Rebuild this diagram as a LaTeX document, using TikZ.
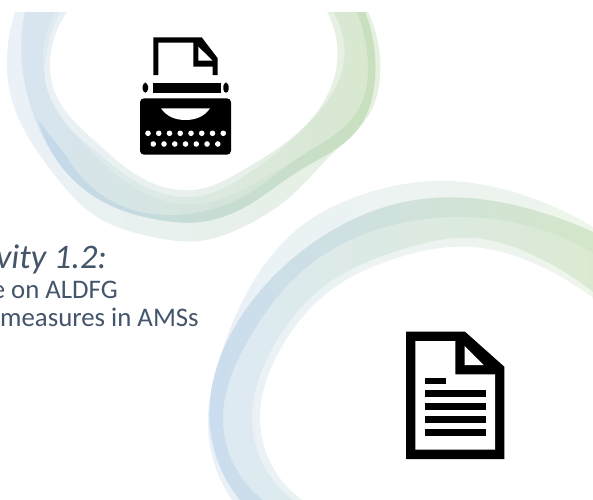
\documentclass[tikz,border=0pt]{standalone}
\usepackage{fontspec}
\usetikzlibrary{hobby}
\setmainfont{Carlito}
\definecolor{slate}{HTML}{44546A}
\definecolor{ta}{HTML}{EAF1F8}\definecolor{tb}{HTML}{E1EBE5}\definecolor{tc}{HTML}{E6F0E0}
\definecolor{ua}{HTML}{E0EAF4}\definecolor{ub}{HTML}{D6E5DF}\definecolor{uc}{HTML}{D8E8CF}
\definecolor{va}{HTML}{D8E5F1}\definecolor{vb}{HTML}{CCDFD8}\definecolor{vc}{HTML}{D2E4C8}
\definecolor{wa}{HTML}{C5D9EC}\definecolor{wb}{HTML}{C3DACF}\definecolor{wc}{HTML}{C9E0BE}
\definecolor{la}{HTML}{EAF1F7}\definecolor{lb}{HTML}{ECF3F3}\definecolor{lc}{HTML}{EEF5EB}
\definecolor{ma}{HTML}{DEEAF4}\definecolor{mb}{HTML}{DFEBEA}\definecolor{mc}{HTML}{DAEAD2}
\definecolor{na}{HTML}{CBDDEF}\definecolor{nb}{HTML}{CFE0E3}\definecolor{nc}{HTML}{D4E6C8}
\tikzset{
  px/.style={x=0.75pt,y=-0.75pt},
  band/.style n args={3}{use Hobby shortcut,left color=#1,middle color=#2,right color=#3,draw=none},
  ink/.style={fill=black,draw=none},
  paper/.style={fill=white,draw=none},
  caption/.style={text=slate,anchor=base east,inner sep=0pt,font=\fontsize{20.1pt}{22pt}\selectfont},
  title/.style={text=slate,anchor=base east,inner sep=0pt,font=\fontsize{25.8pt}{28pt}\itshape\selectfont}
}
\begin{document}
\begin{tikzpicture}[px]
\useasboundingbox (0,0) rectangle (593,500);
\clip (0,0) rectangle (593,500);
% upper swoosh
\path[band={ta}{tb}{tc}]
 (15,12)..(7,57)..(11,97)..(53,173)..(97,217)..(153,237)..(200,241)..(243,227)..(290,197)..(333,153)..(370,113)..(380,77)..(368,12)
 -- (327,12)..(337,63)..(313,117)..(243,170)..(200,189)..(140,177)..(97,143)..(53,87)..(50,67)..(67,12) -- cycle;
\path[band={ua}{ub}{uc}]
 (25,12)..(22,63)..(33,113)..(100,200)..(160,220)..(200,222)..(243,208)..(300,170)..(357,130)..(375,77)..(365,12)
 -- (333,12)..(343,67)..(310,122)..(243,177)..(200,196)..(140,184)..(92,148)..(48,97)..(45,67)..(60,12) -- cycle;
\path[band={va}{vb}{vc}]
 (25,12)..(22,63)..(33,113)..(100,200)..(160,220)..(200,222)..(243,208)..(300,170)..(357,130)..(375,77)..(365,12)
 -- (357,12)..(368,67)..(360,107)..(300,157)..(243,190)..(200,204)..(133,187)..(90,150)..(50,97)..(43,67)..(55,12) -- cycle;
\path[band={wa}{wb}{wc}]
 (38,120)..(100,200)..(160,220)..(200,222)..(243,208)..(300,170)..(357,130)..(375,77)..(365,12)
 -- (357,12)..(368,67)..(360,107)..(300,157)..(243,197)..(200,212)..(133,210)..(67,157) -- cycle;
% lower swoosh
\path[band={la}{lb}{lc}]
 (232,500)..(208,427)..(220,357)..(250,287)..(300,227)..(367,193)..(450,181)..(517,193)..(593,227)
 -- (593,298)..(533,263)..(473,247)..(400,257)..(327,293)..(280,350)..(260,420)..(302,500) -- cycle;
\path[band={ma}{mb}{mc}]
 (240,500)..(210,427)..(233,330)..(280,270)..(333,230)..(400,203)..(467,198)..(533,210)..(593,232)
 -- (593,292)..(533,255)..(473,238)..(400,250)..(323,287)..(273,347)..(252,420)..(293,500) -- cycle;
\path[band={na}{nb}{nc}]
 (240,500)..(210,427)..(233,330)..(280,270)..(333,230)..(400,203)..(467,198)..(533,210)..(593,232)
 -- (593,253)..(533,227)..(467,217)..(367,233)..(300,273)..(250,337)..(223,420)..(263,500) -- cycle;
% typewriter
\fill[ink] (153.3,75)--(153.3,37.3)--(201.7,37.3)--(217.7,58.3)--(217.7,75)--(212.7,75)--(212.7,66.7)--(193.3,66.7)--(193.3,42.5)--(158.3,42.5)--(158.3,75)--cycle;
\fill[paper] (198.3,46.7)--(198.3,60.7)--(212.7,60.7)--cycle;
\fill[ink] (153.3,82.7) rectangle (221,92.7);
\fill[ink,rounded corners=2.6pt] (148,82.7)--(142.7,82.7)--(142.7,92.7)--(148,92.7)--cycle;
\fill[ink,rounded corners=2.6pt] (223.3,82.7)--(228.7,82.7)--(228.7,92.7)--(223.3,92.7)--cycle;
\fill[ink,rounded corners=3pt] (140,98.3) rectangle (231,154.7);
\fill[paper] (161,108.3)--(210,108.3).. controls (204,117) and (195,120) .. (185.5,120) .. controls (176,120) and (167,117) .. (161,108.3)--cycle;
\foreach \i in {0,...,7} \fill[paper] (148+10.75*\i,133.3) circle (2.1pt);
\foreach \i in {0,...,6} \fill[paper] (153.3+10.75*\i,144) circle (2.1pt);
% document
\fill[ink] (406,331.7)--(465,331.7)--(504.3,366.7)--(504.3,459)--(406,459)--cycle;
\fill[paper] (415.3,341)--(455.3,341)--(455.3,374.3)--(495,374.3)--(495,449.7)--(415.3,449.7)--cycle;
\fill[paper] (464.7,346)--(464.7,365)--(483.7,365)--cycle;
\fill[ink] (425,378) rectangle (446,384.3);
\fill[ink] (425,390.3) rectangle (486,397);
\fill[ink] (425,403.3) rectangle (486,410);
\fill[ink] (425,416.3) rectangle (486,422.7);
\fill[ink] (425,429) rectangle (486,435.7);
% text
\node[title] (heading) at (107,268) {vity 1.2:};
\node[caption] (lineone) at (118,298) {e on ALDFG};
\node[caption] (linetwo) at (199,326) {measures in AMSs};
\end{tikzpicture}
\end{document}
